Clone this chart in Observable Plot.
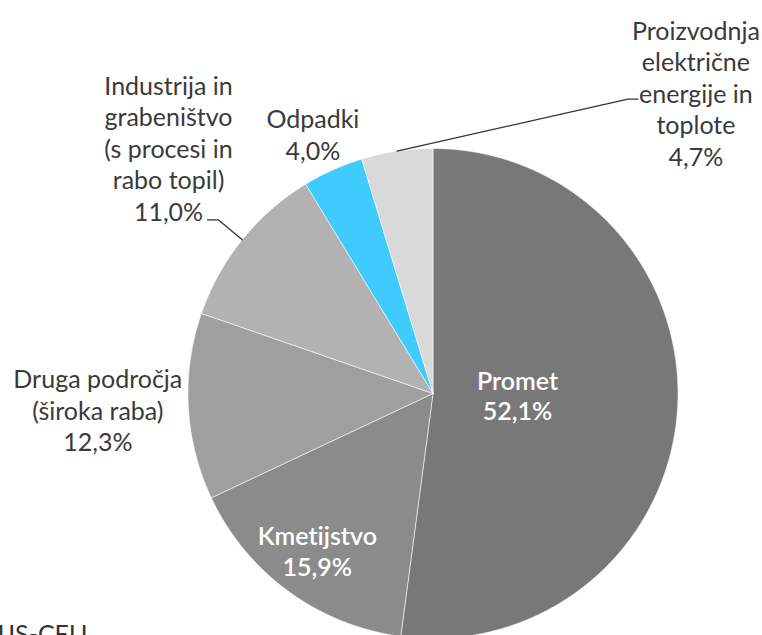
<!DOCTYPE html>
<html><head><meta charset="utf-8">
<script src="https://cdn.jsdelivr.net/npm/d3@7"></script>
<script src="https://cdn.jsdelivr.net/npm/@observablehq/plot@0.6"></script>
<style>body{margin:0;background:#fff;overflow:hidden} svg text{font-variant-ligatures:none;font-feature-settings:"liga" 0}</style>
</head><body><div id="chart"></div>
<script>
// ---- data ----
const sectors = [
  "Promet",
  "Kmetijstvo",
  "Druga področja\n(široka raba)",
  "Industrija in\ngrabeništvo\n(s procesi in\nrabo topil)",
  "Odpadki",
  "Proizvodnja\nelektrične\nenergije in\ntoplote"
];
const shares = [52.1, 15.9, 12.3, 11.0, 4.0, 4.7];
const colors = ["#787878", "#8b8b8b", "#9f9f9f", "#b2b2b2", "#3fcbfd", "#d9d9d9"];
const source = "IJS-CEU";

// ---- layout ----
const W = 762, H = 635, CX = 432.5, CY = 393, R = 245;
const FONT = "Lato, 'Open Sans', sans-serif";
// label placement: radius factor on mid-angle + pixel offsets
const labelLayout = [
  {k: 0.35, dx: -1, dy: -4, inside: true},
  {k: 0.80, dx: 0, dy: -1, inside: true},
  {k: 1.37, dx: 0, dy: -2},
  {k: 1.35, dx: -7, dy: -38},
  {k: 1.17, dx: -3, dy: 2},
  {k: 1.25, dx: 308, dy: 2}
];
// leader lines: elbow/end offsets (px) relative to label centre
const leaders = {
  3: [[50, 72], [39, 72]],
  5: [[-68, 6.5], [-58, 6.5]]
};

const fmt = v => v.toFixed(1).replace(".", ",") + "%";
const arcs = d3.pie().sort(null).value(d => d)(shares);

// slice polygons
const pts = [];
arcs.forEach((a, i) => {
  pts.push({x: 0, y: 0, s: i, c: colors[i]});
  const n = Math.max(2, Math.ceil((a.endAngle - a.startAngle) / 0.004));
  for (let j = 0; j <= n; j++) {
    const t = a.startAngle + (a.endAngle - a.startAngle) * j / n;
    pts.push({x: Math.sin(t), y: Math.cos(t), s: i, c: colors[i]});
  }
  pts.push({x: 0, y: 0, s: i, c: colors[i]});
});

// labels
const labels = arcs.map((a, i) => {
  const m = (a.startAngle + a.endAngle) / 2;
  const L = labelLayout[i];
  return {
    x: L.k * Math.sin(m) + L.dx / R,
    y: L.k * Math.cos(m) - L.dy / R,
    text: sectors[i] + "\n" + fmt(shares[i]),
    inside: !!L.inside, i
  };
});

// leader lines
const leaderPts = [];
Object.entries(leaders).forEach(([key, offs]) => {
  const i = +key, a = arcs[i], m = (a.startAngle + a.endAngle) / 2, lab = labels[i];
  leaderPts.push({x: Math.sin(m), y: Math.cos(m), g: i});
  offs.forEach(([ox, oy]) => leaderPts.push({x: lab.x + ox / R, y: lab.y - oy / R, g: i}));
});

const chart = Plot.plot({
  width: W, height: H,
  margin: 0,
  x: {domain: [-CX / R, (W - CX) / R], axis: null},
  y: {domain: [(CY - H) / R, CY / R], axis: null},
  style: {fontFamily: FONT, background: "#fff"},
  marks: [
    Plot.line(pts, {x: "x", y: "y", z: "s", fill: "c", stroke: "#ffffff", strokeWidth: 0.8, strokeOpacity: 0.7}),
    Plot.line(leaderPts, {x: "x", y: "y", z: "g", stroke: "#333", strokeWidth: 1.3}),
    Plot.text(labels.filter(d => !d.inside), {x: "x", y: "y", text: "text", fill: "#3a3a3a", fontSize: 25, lineHeight: 1.26}),
    Plot.text(labels.filter(d => d.inside), {x: "x", y: "y", text: "text", fill: "#ffffff", fontSize: 25, fontWeight: 600, lineHeight: 1.22}),
    Plot.text([source], {frameAnchor: "bottom-left", text: d => d, lineAnchor: "top", dy: -10, dx: -3, fontSize: 25, fill: "#333"})
  ]
});
document.getElementById("chart").append(chart);
</script>
</body></html>
